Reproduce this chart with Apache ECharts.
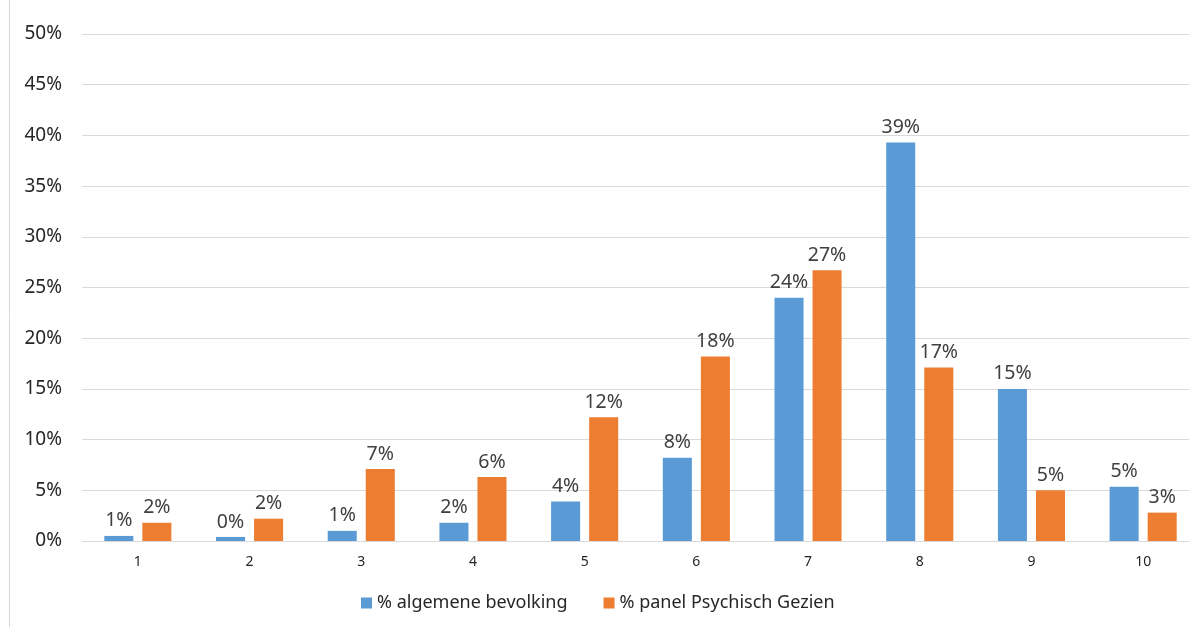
<!DOCTYPE html>
<html>
<head>
<meta charset="utf-8">
<script src="https://cdn.jsdelivr.net/npm/echarts@6/dist/echarts.min.js"></script>
<style>
html,body{margin:0;padding:0;background:#fff;}
#c{width:1189px;height:627px;}
</style>
</head>
<body>
<div id="c"></div>
<script>
var categories = ['1','2','3','4','5','6','7','8','9','10'];
var seriesNames = ['% algemene bevolking', '% panel Psychisch Gezien'];
var algemeneBevolking = [0.5, 0.4, 1.0, 1.8, 3.9, 8.2, 24.0, 39.3, 15.0, 5.35];
var panelPsychischGezien = [1.8, 2.2, 7.1, 6.3, 12.2, 18.2, 26.7, 17.1, 5.0, 2.8];
var yTicks = [0, 5, 10, 15, 20, 25, 30, 35, 40, 45, 50];

var chart = echarts.init(document.getElementById('c'));
var font = 'Noto Sans';
var labelCfg = {
  show: true, position: 'top', distance: 5,
  color: '#404040', fontSize: 19.5, fontFamily: font,
  formatter: function (p) { return Math.round(p.value) + '%'; }
};
chart.setOption({
  animation: false,
  textStyle: { fontFamily: font },
  graphic: [{
    type: 'line', shape: { x1: 9.5, y1: 0, x2: 9.5, y2: 627 },
    style: { stroke: '#d9d9d9', lineWidth: 1 }
  }],
  grid: { left: 82, width: 1117, top: 34, bottom: 86, outerBoundsMode: 'none', containLabel: false },
  legend: {
    bottom: 10, left: 356, itemWidth: 11, itemHeight: 11, itemGap: 36,
    icon: 'rect',
    textStyle: { fontSize: 18, color: '#262626', fontFamily: font },
    data: seriesNames
  },
  xAxis: {
    type: 'category', data: categories,
    axisLine: { lineStyle: { color: '#d9d9d9' } },
    axisTick: { show: false },
    axisLabel: { fontSize: 14, color: '#262626', margin: 14 }
  },
  yAxis: {
    type: 'value', min: yTicks[0], max: yTicks[yTicks.length - 1], interval: 5,
    axisLine: { show: false }, axisTick: { show: false },
    splitLine: { lineStyle: { color: '#d9d9d9' } },
    axisLabel: { fontSize: 19, color: '#262626', margin: 20, formatter: '{value}%' }
  },
  series: [
    { name: seriesNames[0], type: 'bar', data: algemeneBevolking, barWidth: '26%', barGap: '31%',
      itemStyle: { color: '#5b9bd5' }, label: labelCfg },
    { name: seriesNames[1], type: 'bar', data: panelPsychischGezien, barWidth: '26%',
      itemStyle: { color: '#ed7d31' }, label: labelCfg }
  ]
});
</script>
</body>
</html>
